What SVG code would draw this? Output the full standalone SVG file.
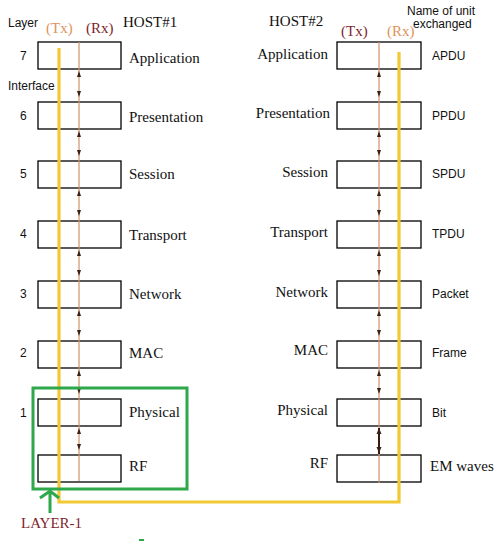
<svg xmlns="http://www.w3.org/2000/svg" width="497" height="549" viewBox="0 0 497 549">
<style>
.box{fill:#fff;stroke:#000;stroke-width:1.3}
.ser{font-family:"Liberation Serif","Times New Roman",serif;font-size:15px;fill:#111}
.san{font-family:"Liberation Sans",Arial,sans-serif;font-size:12px;fill:#111}
.tx{fill:#e0935a}
.rx{fill:#7f1f2e}
.thin{stroke:#cf8f66;stroke-width:1.2;fill:none}
.yel{stroke:#f2c935;stroke-width:3.2;fill:none}
.ah{fill:#3a2218}
.grn{stroke:#2ea84a;stroke-width:3;fill:none}
</style>
<rect width="497" height="549" fill="#fff"/>
<g id="headers">
<text class="san" x="8" y="27">Layer</text>
<text class="ser tx" x="46" y="33">(Tx)</text>
<text class="ser rx" x="86" y="33">(Rx)</text>
<text class="ser" x="123" y="27">HOST#1</text>
<text class="ser" x="269" y="26">HOST#2</text>
<text class="ser rx" x="341" y="36">(Tx)</text>
<text class="ser tx" x="387" y="36">(Rx)</text>
<text class="san" x="407" y="15">Name of unit</text>
<text class="san" x="413" y="28">exchanged</text>
<text class="san" x="8" y="90">Interface</text>
</g>
<g id="host1">
<g id="h1-l7"><rect class="box" x="38" y="42" width="83" height="27"/><text class="san" x="20" y="60">7</text><text class="ser" x="129" y="63">Application</text></g>
<g id="h1-l6"><rect class="box" x="38" y="102" width="83" height="27"/><text class="san" x="20" y="120">6</text><text class="ser" x="129" y="122">Presentation</text></g>
<g id="h1-l5"><rect class="box" x="38" y="161" width="83" height="27"/><text class="san" x="20" y="178">5</text><text class="ser" x="129" y="179">Session</text></g>
<g id="h1-l4"><rect class="box" x="38" y="221" width="83" height="27"/><text class="san" x="20" y="238">4</text><text class="ser" x="129" y="240">Transport</text></g>
<g id="h1-l3"><rect class="box" x="38" y="281" width="83" height="27"/><text class="san" x="20" y="298">3</text><text class="ser" x="129" y="299">Network</text></g>
<g id="h1-l2"><rect class="box" x="38" y="341" width="83" height="27"/><text class="san" x="20" y="357">2</text><text class="ser" x="129" y="358">MAC</text></g>
<g id="h1-l1"><rect class="box" x="38" y="399" width="83" height="27"/><text class="san" x="20" y="417">1</text><text class="ser" x="129" y="417">Physical</text></g>
<g id="h1-rf"><rect class="box" x="38" y="455" width="83" height="27"/><text class="ser" x="129" y="471">RF</text></g>
</g>
<g id="host2">
<g id="h2-l7"><rect class="box" x="337" y="42" width="84" height="27"/><text class="ser" x="328" y="59" text-anchor="end">Application</text><text class="san" x="432" y="60">APDU</text></g>
<g id="h2-l6"><rect class="box" x="337" y="102" width="84" height="27"/><text class="ser" x="330" y="118" text-anchor="end">Presentation</text><text class="san" x="432" y="120">PPDU</text></g>
<g id="h2-l5"><rect class="box" x="337" y="161" width="84" height="27"/><text class="ser" x="328" y="177" text-anchor="end">Session</text><text class="san" x="432" y="178">SPDU</text></g>
<g id="h2-l4"><rect class="box" x="337" y="221" width="84" height="27"/><text class="ser" x="328" y="237" text-anchor="end">Transport</text><text class="san" x="432" y="238">TPDU</text></g>
<g id="h2-l3"><rect class="box" x="337" y="281" width="84" height="27"/><text class="ser" x="328" y="297" text-anchor="end">Network</text><text class="san" x="432" y="298">Packet</text></g>
<g id="h2-l2"><rect class="box" x="337" y="341" width="84" height="27"/><text class="ser" x="328" y="355" text-anchor="end">MAC</text><text class="san" x="432" y="357">Frame</text></g>
<g id="h2-l1"><rect class="box" x="337" y="399" width="84" height="27"/><text class="ser" x="328" y="415" text-anchor="end">Physical</text><text class="san" x="432" y="417">Bit</text></g>
<g id="h2-rf"><rect class="box" x="337" y="455" width="84" height="27"/><text class="ser" x="328" y="468" text-anchor="end">RF</text><text class="ser" x="430" y="471">EM waves</text></g>
</g>
<g id="connectors">
<path class="yel" d="M59,48 V502 H399 V52"/>
<path class="thin" d="M79,42 V481"/>
<path class="thin" d="M379,42 V483"/>
<path d="M379,428 V454" stroke="#3a1a10" stroke-width="2"/>
<g class="ah">
<path id="au" d="M79,71 l-2,6 h4 z"/><path d="M79,97 l-2,-6 h4 z"/>
<path d="M79,131 l-2,6 h4 z"/><path d="M79,156 l-2,-6 h4 z"/>
<path d="M79,190 l-2,6 h4 z"/><path d="M79,216 l-2,-6 h4 z"/>
<path d="M79,250 l-2,6 h4 z"/><path d="M79,276 l-2,-6 h4 z"/>
<path d="M79,310 l-2,6 h4 z"/><path d="M79,336 l-2,-6 h4 z"/>
<path d="M79,370 l-2,6 h4 z"/><path d="M79,394 l-2,-6 h4 z"/>
<path d="M79,428 l-2,6 h4 z"/><path d="M79,450 l-2,-6 h4 z"/>
<path d="M379,71 l-2,6 h4 z"/><path d="M379,97 l-2,-6 h4 z"/>
<path d="M379,131 l-2,6 h4 z"/><path d="M379,156 l-2,-6 h4 z"/>
<path d="M379,190 l-2,6 h4 z"/><path d="M379,216 l-2,-6 h4 z"/>
<path d="M379,250 l-2,6 h4 z"/><path d="M379,276 l-2,-6 h4 z"/>
<path d="M379,310 l-2,6 h4 z"/><path d="M379,336 l-2,-6 h4 z"/>
<path d="M379,370 l-2,6 h4 z"/><path d="M379,394 l-2,-6 h4 z"/>
<path d="M379,428 l-2.5,6 h5 z"/><path d="M379,453 l-2.5,-6 h5 z"/>
</g>
</g>
<g id="layer1">
<rect class="grn" x="33" y="388" width="154" height="101"/>
<path class="grn" d="M50,492 V513 M40,498 L50,491 L59,498"/>
<text class="ser rx" x="21" y="528">LAYER-1</text>
<rect x="139" y="539" width="5" height="2" fill="#2ea84a"/>
</g>
</svg>
